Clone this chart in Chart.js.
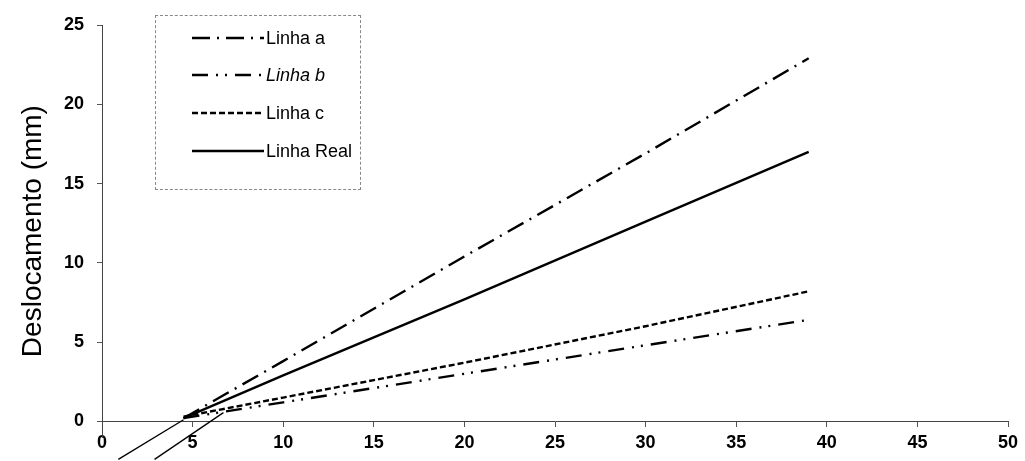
<!DOCTYPE html>
<html lang="pt">
<head>
<meta charset="utf-8">
<title>Deslocamento</title>
<script src="https://cdn.jsdelivr.net/npm/chart.js@4/dist/chart.umd.min.js"></script>
<style>
    body { margin: 0; background: #fff; }
    #wrap { position: relative; width: 1025px; height: 461px; }
    #legenda {
        position: absolute; left: 155px; top: 15px; width: 206px; height: 175px;
        border: 1px dashed #888; box-sizing: border-box;
        font-family: "Liberation Sans", Arial, sans-serif; font-size: 18px; color: #000;
    }
    #legenda .item { position: absolute; left: 36px; height: 20px; display: flex; align-items: center; }
    #legenda svg { display: block; margin-right: 2px; }
</style>
</head>
<body>
<div id="wrap">
    <canvas id="grafico"></canvas>
    <div id="legenda"></div>
</div>
<script>
// dados (x = carga, y = deslocamento em mm)
const xLinhas = [4.5, 10, 20, 30, 39];
const linhaA = [0.2, 3.8, 10.4, 16.9, 22.9];
const linhaB = [0.2, 1.2, 3.0, 4.8, 6.4];
const linhaC = [0.3, 1.5, 3.7, 6.0, 8.2];
const linhaReal = [0.2, 2.9, 7.7, 12.6, 17.0];

// trechos finos abaixo de zero (sem legenda)
const xTrecho1 = [0.9, 4.5];
const yTrecho1 = [-2.4, 0.1];
const xTrecho2 = [2.9, 6.7];
const yTrecho2 = [-2.4, 0.55];

const nomesSeries = ['Linha a', 'Linha b', 'Linha c', 'Linha Real'];
const ticksX = [0, 5, 10, 15, 20, 25, 30, 35, 40, 45, 50];
const ticksY = [0, 5, 10, 15, 20, 25];

const FONTE = '"Liberation Sans", Arial, sans-serif';
const tracos = [[18, 7, 2, 7], [16, 8, 2, 7, 2, 8], [6, 3], []];
const italico = [false, true, false, false];

const pontos = (xs, ys) => xs.map((x, i) => ({ x: x, y: ys[i] }));

const seriesY = [linhaA, linhaB, linhaC, linhaReal];
const datasets = seriesY.map((ys, i) => ({
    label: nomesSeries[i],
    data: pontos(xLinhas, ys),
    borderColor: '#000',
    borderWidth: 2.4,
    borderDash: tracos[i],
    pointRadius: 0,
    tension: 0,
    clip: false
}));
[[xTrecho1, yTrecho1], [xTrecho2, yTrecho2]].forEach(([xs, ys]) => {
    datasets.push({
        label: '',
        data: pontos(xs, ys),
        borderColor: '#000',
        borderWidth: 1.3,
        pointRadius: 0,
        tension: 0,
        clip: false
    });
});

new Chart(document.getElementById('grafico'), {
    type: 'line',
    data: { datasets: datasets },
    options: {
        responsive: true,
        maintainAspectRatio: false,
        animation: false,
        events: [],
        layout: { padding: { top: 25, right: 17, bottom: 21, left: 0 } },
        plugins: { legend: { display: false }, tooltip: { enabled: false } },
        scales: {
            x: {
                type: 'linear',
                position: { y: 0 },
                min: ticksX[0],
                max: ticksX[ticksX.length - 1],
                afterBuildTicks: (s) => { s.ticks = ticksX.map(v => ({ value: v })); },
                ticks: { color: '#000', padding: 6, font: { family: FONTE, size: 18, weight: 'bold' } },
                grid: { drawOnChartArea: false, drawTicks: true, tickLength: 5, color: '#555' },
                border: { display: true, color: '#444', width: 1, dash: [9, 2] }
            },
            y: {
                type: 'linear',
                position: 'left',
                min: -1,
                max: 25,
                afterBuildTicks: (s) => { s.ticks = ticksY.map(v => ({ value: v })); },
                afterFit: (s) => { s.width = 102; },
                ticks: { color: '#000', padding: 13, font: { family: FONTE, size: 18, weight: 'bold' } },
                grid: { drawOnChartArea: false, drawTicks: true, tickLength: 5, color: '#555' },
                border: { display: true, color: '#444', width: 1, dash: [9, 2] },
                title: {
                    display: true,
                    text: 'Deslocamento (mm)',
                    color: '#000',
                    font: { family: FONTE, size: 28 },
                    padding: { top: 16, bottom: 0 }
                }
            }
        }
    }
});

// legenda com caixa tracejada dentro da área do gráfico
const legendaEl = document.getElementById('legenda');
const linhasTopo = [12, 49, 87, 125];
legendaEl.innerHTML = nomesSeries.map((nome, i) => `
    <div class="item" style="top:${linhasTopo[i]}px">
        <svg width="72" height="6"><line x1="0" y1="3" x2="72" y2="3" stroke="#000" stroke-width="2.4"
            stroke-dasharray="${tracos[i].length ? tracos[i].join(',') : 'none'}"/></svg>
        <span style="font-style:${italico[i] ? 'italic' : 'normal'}">${nome}</span>
    </div>`).join('');
</script>
</body>
</html>
